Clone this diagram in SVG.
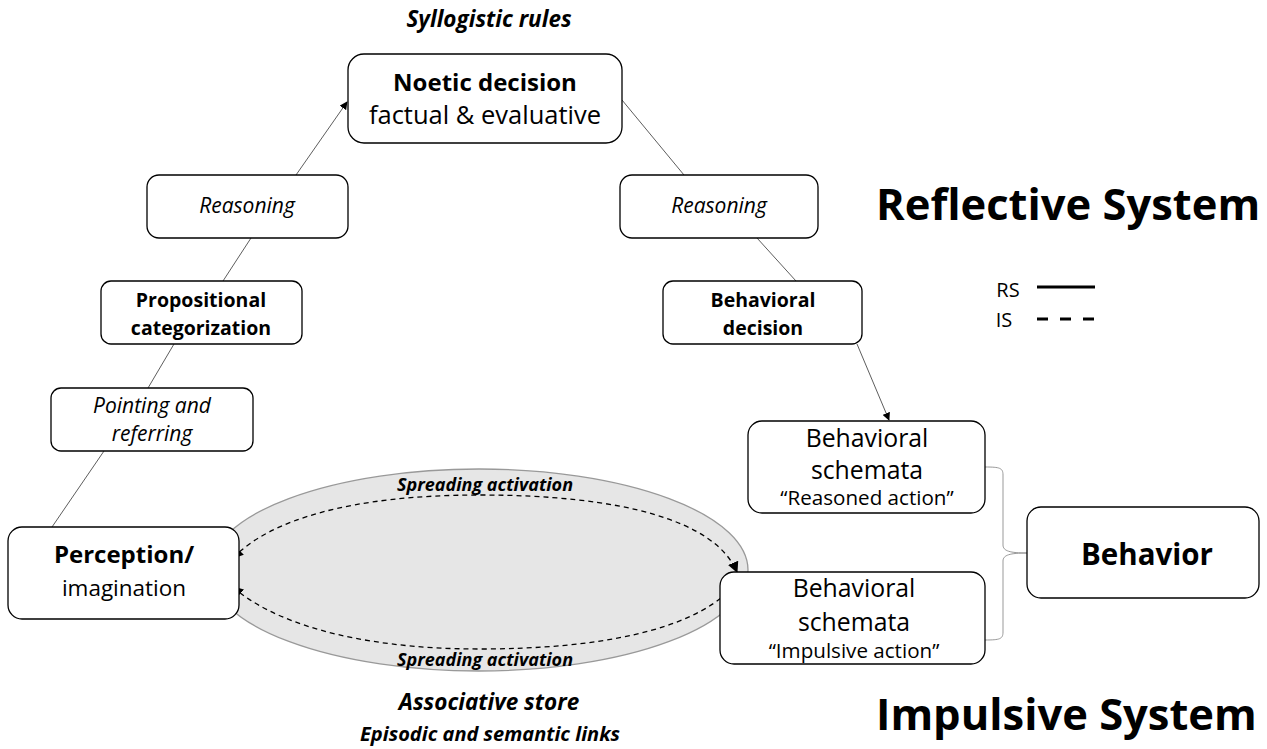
<svg xmlns="http://www.w3.org/2000/svg" width="1267" height="749" viewBox="0 0 1267 749">
<defs>
<marker id="ah" viewBox="0 0 10 10" refX="9" refY="5" markerWidth="8" markerHeight="8" orient="auto-start-reverse" markerUnits="userSpaceOnUse">
<path d="M0,0 L10,5 L0,10 z" fill="#000"/>
</marker>
<marker id="ah2" viewBox="0 0 10 10" refX="9" refY="5" markerWidth="11" markerHeight="11" orient="auto-start-reverse" markerUnits="userSpaceOnUse">
<path d="M0,0 L10,5 L0,10 z" fill="#000"/>
</marker>
<style>
text{font-family:"Open Sans","Liberation Sans",sans-serif;fill:#000;text-anchor:middle}
.box{fill:#fff;stroke:#000;stroke-width:1.3}
.b{font-weight:bold}
.i{font-style:italic}
.bi{font-weight:bold;font-style:italic}
.conn{stroke:#333;stroke-width:0.8;fill:none}
.dash{stroke:#000;stroke-width:1.3;fill:none;stroke-dasharray:5,4}
.big{font-weight:bold;font-size:43.5px;text-anchor:start}
</style>
</defs>
<rect width="1267" height="749" fill="#fff"/>

<g id="associative-store">
<ellipse cx="479" cy="570" rx="269" ry="101" fill="#e6e6e6" stroke="#999" stroke-width="1.3"/>
</g>

<g id="connectors">
<line class="conn" x1="296" y1="175" x2="347" y2="102" marker-end="url(#ah)"/>
<line class="conn" x1="622" y1="100" x2="684" y2="175"/>
<line class="conn" x1="251" y1="238" x2="223" y2="281"/>
<line class="conn" x1="757" y1="238" x2="796" y2="281"/>
<line class="conn" x1="174" y1="344" x2="148" y2="388"/>
<line class="conn" x1="857" y1="344" x2="889" y2="420" marker-end="url(#ah)"/>
<line class="conn" x1="104" y1="451" x2="52" y2="527"/>
<path class="dash" d="M233,558 C270,520 350,495 480,495 C620,495 715,520 737,572" marker-start="url(#ah2)" marker-end="url(#ah2)"/>
<path class="dash" d="M233,587 C270,620 350,649 480,649 C600,649 690,630 730,590" marker-start="url(#ah2)" marker-end="url(#ah2)"/>
<path d="M985,467 C1000,467 1003,468 1003,475 L1003,545 C1003,551 1010,553 1027,553 C1010,553 1003,555 1003,561 L1003,632 C1003,639 1000,640 985,640" fill="none" stroke="#999" stroke-width="1"/>
</g>

<text class="bi" x="489" y="27" font-size="22.5">Syllogistic rules</text>
<text class="bi" x="485" y="491" font-size="18">Spreading activation</text>
<text class="bi" x="485" y="666" font-size="18">Spreading activation</text>
<text class="bi" x="489" y="710" font-size="22.5">Associative store</text>
<text class="bi" x="490" y="741" font-size="20">Episodic and semantic links</text>

<g id="noetic-decision">
<rect class="box" x="348" y="54" width="274" height="89" rx="16"/>
<text class="b" x="485" y="91" font-size="24">Noetic decision</text>
<text x="485" y="124" font-size="25.5">factual &amp; evaluative</text>
</g>

<g id="reasoning-left">
<rect class="box" x="147" y="175" width="201" height="63" rx="12"/>
<text class="i" x="247" y="213" font-size="21">Reasoning</text>
</g>

<g id="reasoning-right">
<rect class="box" x="620" y="175" width="198" height="63" rx="12"/>
<text class="i" x="719" y="213" font-size="21">Reasoning</text>
</g>

<g id="propositional-categorization">
<rect class="box" x="101" y="281" width="201" height="63" rx="10"/>
<text class="b" x="201" y="307" font-size="19.5">Propositional</text>
<text class="b" x="201" y="335" font-size="19.5">categorization</text>
</g>

<g id="behavioral-decision">
<rect class="box" x="663" y="281" width="199" height="63" rx="10"/>
<text class="b" x="763" y="307" font-size="19.5">Behavioral</text>
<text class="b" x="763" y="335" font-size="19.5">decision</text>
</g>

<g id="pointing-referring">
<rect class="box" x="51" y="388" width="202" height="63" rx="10"/>
<text class="i" x="152" y="413" font-size="21">Pointing and</text>
<text class="i" x="152" y="441" font-size="21">referring</text>
</g>

<g id="perception">
<rect class="box" x="8" y="527" width="231" height="92" rx="14"/>
<text class="b" x="124" y="563" font-size="24">Perception/</text>
<text x="124" y="596" font-size="22.5">imagination</text>
</g>

<g id="schemata-reasoned">
<rect class="box" x="748" y="421" width="237" height="92" rx="14"/>
<text x="867" y="447" font-size="24.8">Behavioral</text>
<text x="867" y="479" font-size="24.8">schemata</text>
<text x="867" y="505" font-size="20.6">“Reasoned action”</text>
</g>

<g id="schemata-impulsive">
<rect class="box" x="720" y="572" width="265" height="92" rx="14"/>
<text x="854" y="597" font-size="24.8">Behavioral</text>
<text x="854" y="631" font-size="24.8">schemata</text>
<text x="854" y="658" font-size="20.6">“Impulsive action”</text>
</g>

<g id="behavior">
<rect class="box" x="1027" y="507" width="232" height="91" rx="14"/>
<text class="b" x="1147" y="565" font-size="29.5">Behavior</text>
</g>

<text class="big" x="876" y="220">Reflective System</text>
<text class="big" x="876" y="730">Impulsive System</text>

<g id="legend">
<text x="1008" y="297" font-size="20">RS</text>
<line x1="1037" y1="287" x2="1095" y2="287" stroke="#000" stroke-width="3"/>
<text x="1004" y="327" font-size="20">IS</text>
<line x1="1037" y1="319" x2="1095" y2="319" stroke="#000" stroke-width="3" stroke-dasharray="11,12"/>
</g>
</svg>
